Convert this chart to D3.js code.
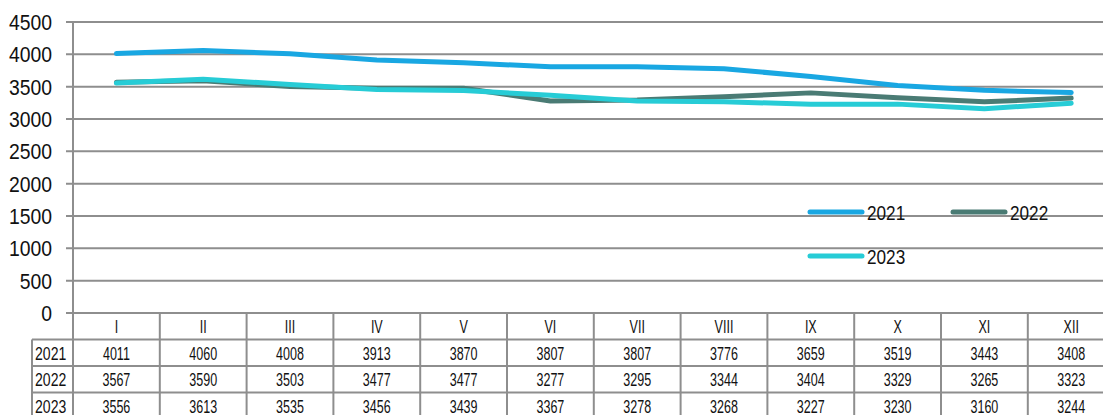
<!DOCTYPE html>
<html>
<head>
<meta charset="utf-8">
<script src="https://cdn.jsdelivr.net/npm/d3@7"></script>
<style>
  body { margin: 0; background: #fff; }
  svg { display: block; font-family: "Liberation Sans", Arial, sans-serif; }
</style>
</head>
<body>
<div id="chart"></div>
<script>
// chart data
let months = ['I', 'II', 'III', 'IV', 'V', 'VI', 'VII', 'VIII', 'IX', 'X', 'XI', 'XII'];
let years = ['2021', '2022', '2023'];
let values2021 = [4011, 4060, 4008, 3913, 3870, 3807, 3807, 3776, 3659, 3519, 3443, 3408];
let values2022 = [3567, 3590, 3503, 3477, 3477, 3277, 3295, 3344, 3404, 3329, 3265, 3323];
let values2023 = [3556, 3613, 3535, 3456, 3439, 3367, 3278, 3268, 3227, 3230, 3160, 3244];
let yTicks = [0, 500, 1000, 1500, 2000, 2500, 3000, 3500, 4000, 4500];

let series = [
  { name: years[0], values: values2021, color: '#19a7e2' },
  { name: years[1], values: values2022, color: '#4a7b74' },
  { name: years[2], values: values2023, color: '#27ccd6' }
];

let width = 1103, height = 415;
let margin = { top: 22, left: 73, bottom: 313 };
let gridColor = '#8e8e8e';

let svg = d3.select('#chart')
  .append('svg')
  .attr('width', width)
  .attr('height', height);

// squeezed text, the original uses a narrow font
function narrowText(g, x, y, txt, size, sx, anchor) {
  return g.append('text')
    .attr('transform', `translate(${x},${y}) scale(${sx},1)`)
    .attr('text-anchor', anchor || 'start')
    .style('font-size', size + 'px')
    .attr('fill', '#111')
    .text(txt);
}

// scales
let xScale = d3.scaleBand()
  .domain(months)
  .range([margin.left, margin.left + 12 * 86.8]);

let yScale = d3.scaleLinear()
  .domain([0, 4500])
  .range([margin.bottom, margin.top]);

// gridlines
svg.append('g')
  .selectAll('line')
  .data(yTicks)
  .enter()
  .append('line')
  .attr('x1', margin.left - 7)
  .attr('x2', width)
  .attr('y1', d => yScale(d))
  .attr('y2', d => yScale(d))
  .attr('stroke', gridColor)
  .attr('stroke-width', 2);

// y labels
let yLab = svg.append('g');
yTicks.forEach(function(t) {
  narrowText(yLab, 52, yScale(t) + 8, t, 22, 0.88, 'end');
});

// y axis line
svg.append('line')
  .attr('x1', margin.left).attr('x2', margin.left)
  .attr('y1', margin.top).attr('y2', margin.bottom)
  .attr('stroke', gridColor).attr('stroke-width', 2);

// data table below the plot
let rowH = 26.5;
let table = svg.append('g');
let rowsTop = margin.bottom + rowH;
let tableBottom = rowsTop + 3 * rowH;

[margin.bottom, rowsTop, rowsTop + rowH, rowsTop + 2 * rowH].forEach(function(y, i) {
  table.append('line')
    .attr('x1', i == 0 ? margin.left : 32).attr('x2', width)
    .attr('y1', y).attr('y2', y)
    .attr('stroke', gridColor).attr('stroke-width', 2);
});
months.forEach(function(m) {
  table.append('line')
    .attr('x1', xScale(m)).attr('x2', xScale(m))
    .attr('y1', margin.bottom).attr('y2', tableBottom)
    .attr('stroke', gridColor).attr('stroke-width', 2);
});
table.append('line')
  .attr('x1', 32).attr('x2', 32)
  .attr('y1', rowsTop).attr('y2', tableBottom)
  .attr('stroke', gridColor).attr('stroke-width', 2);

// header
months.forEach(function(m) {
  narrowText(table, xScale(m) + xScale.bandwidth() / 2, margin.bottom + rowH / 2 + 7, m, 19, 0.66, 'middle');
});

// rows
series.forEach(function(s, i) {
  let y = rowsTop + i * rowH + rowH / 2 + 7;
  narrowText(table, 35, y, s.name, 19, 0.74, 'start');
  s.values.forEach(function(v, j) {
    narrowText(table, xScale(months[j]) + xScale.bandwidth() / 2, y, v, 19, 0.66, 'middle');
  });
});

// lines
let line = d3.line()
  .x((d, j) => xScale(months[j]) + xScale.bandwidth() / 2)
  .y(d => yScale(d));

svg.append('g')
  .selectAll('path')
  .data(series)
  .enter()
  .append('path')
  .attr('d', d => line(d.values))
  .attr('fill', 'none')
  .attr('stroke', d => d.color)
  .attr('stroke-width', 5)
  .attr('stroke-linecap', 'round')
  .attr('stroke-linejoin', 'round');

// legend
let legendPos = [[808, 212], [951, 212], [808, 256]];
let legend = svg.append('g');
series.forEach(function(s, i) {
  let g = legend.append('g')
    .attr('transform', `translate(${legendPos[i][0]},${legendPos[i][1]})`);
  g.append('line')
    .attr('x1', 2).attr('x2', 54)
    .attr('stroke', s.color)
    .attr('stroke-width', 5)
    .attr('stroke-linecap', 'round');
  narrowText(g, 59, 8, s.name, 20, 0.86, 'start');
});
</script>
</body>
</html>
